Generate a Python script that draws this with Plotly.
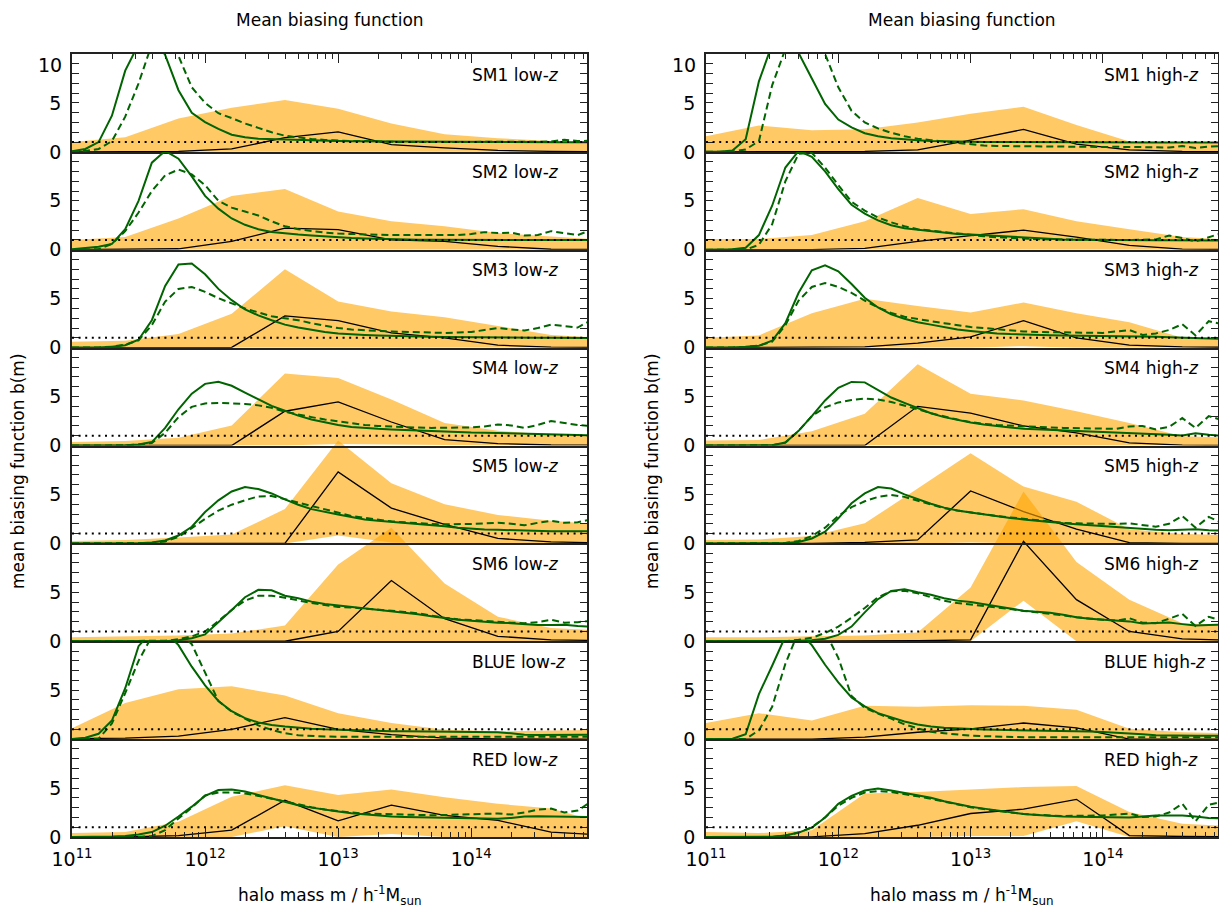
import plotly.graph_objects as go

# ---------------- data ----------------
LOGM_BIN = [11.0, 11.4, 11.8, 12.2, 12.6, 13.0, 13.4, 13.8, 14.2, 14.6, 15.0]
LOGM_FINE = [11.0, 11.1, 11.2, 11.3, 11.4, 11.5, 11.6, 11.7, 11.8, 11.9,
             12.0, 12.1, 12.2, 12.3, 12.4, 12.5, 12.6, 12.7, 12.8, 12.9,
             13.0, 13.1, 13.2, 13.3, 13.4, 13.5, 13.6, 13.7, 13.8, 13.9,
             14.0, 14.1, 14.2, 14.3, 14.4, 14.5, 14.6, 14.7, 14.8, 14.9]
X_TICKS = [1e11, 1e12, 1e13, 1e14]
X_TICKTEXT = ["10<sup>11</sup>", "10<sup>12</sup>", "10<sup>13</sup>", "10<sup>14</sup>"]
Y_TICKS = [0, 5]
Y_TICKTEXT = ["0", "5"]
Y_MINOR = [1, 2, 3, 4, 6, 7, 8, 9, 10]

# ---- low-z ----
SM1_LOW_UP = [1.0, 1.5, 3.4, 4.5, 5.3, 4.4, 2.9, 1.8, 1.4, 1.1, 1.0]
SM1_LOW_LO = [0, 0, 0, 0, 0, 0, 0, 0, 0, 0, 0]
SM1_LOW_MEAN = [0.0, 0.0, 0.05, 0.3, 1.45, 2.05, 0.75, 0.4, 0.15, 0.05, 0.02]
SM1_LOW_G = [0.05, 0.3, 1.0, 3.7, 8.3, 11.0, 12.0, 9.9, 6.3, 4.0,
             3.05, 2.35, 1.75, 1.5, 1.35, 1.3, 1.25, 1.2, 1.15, 1.12,
             1.1, 1.08, 1.07, 1.06, 1.05, 1.05, 1.04, 1.04, 1.03, 1.03,
             1.02, 1.02, 1.01, 1.0, 1.0, 1.0, 1.0, 0.99, 0.99, 0.98]
SM1_LOW_GD = [0.0, 0.1, 0.3, 1.1, 3.6, 7.0, 11.0, 12.5, 9.8, 6.6,
              5.0, 3.95, 3.45, 2.9, 2.45, 2.0, 1.65, 1.45, 1.32, 1.22,
              1.15, 1.1, 1.1, 1.05, 1.05, 1.0, 1.0, 1.0, 1.0, 1.0,
              1.0, 1.0, 1.0, 1.0, 1.0, 1.0, 1.05, 1.25, 1.1, 1.15]

SM2_LOW_UP = [1.0, 1.3, 3.2, 5.5, 6.2, 3.9, 2.9, 2.4, 1.7, 1.3, 1.0]
SM2_LOW_LO = [0, 0, 0, 0, 0, 0, 0, 0, 0, 0, 0]
SM2_LOW_MEAN = [0.0, 0.02, 0.1, 0.85, 2.2, 2.05, 1.0, 0.85, 0.35, 0.05, 0.02]
SM2_LOW_G = [0.05, 0.15, 0.3, 0.6, 2.1, 5.0, 8.9, 10.1, 9.3, 7.5,
             5.5, 4.2, 3.2, 2.55, 2.1, 1.82, 1.65, 1.55, 1.45, 1.35,
             1.3, 1.2, 1.15, 1.1, 1.05, 1.03, 1.02, 1.01, 1.0, 1.0,
             1.0, 1.0, 1.0, 1.0, 1.0, 1.0, 1.0, 1.0, 1.0, 1.0]
SM2_LOW_GD = [0.0, 0.0, 0.05, 0.6, 1.9, 3.8, 6.0, 7.6, 8.2, 7.7,
              6.6, 5.0, 4.3, 3.9, 3.5, 2.9, 2.4, 2.1, 1.9, 1.75,
              1.65, 1.6, 1.6, 1.55, 1.5, 1.5, 1.5, 1.45, 1.45, 1.5,
              1.6, 1.8, 1.7, 1.75, 1.45, 1.5, 1.9, 1.7, 1.5, 2.0]

SM3_LOW_UP = [0.6, 0.7, 1.4, 3.45, 8.0, 4.7, 3.7, 3.1, 2.2, 1.3, 1.0]
SM3_LOW_LO = [0, 0, 0, 0, 0, 0, 0, 0, 0, 0, 0]
SM3_LOW_MEAN = [0.0, 0.0, 0.0, 0.02, 3.25, 2.75, 1.5, 1.0, 0.25, 0.05, 0.02]
SM3_LOW_G = [0.0, 0.0, 0.02, 0.1, 0.25, 0.8, 2.8, 6.3, 8.5, 8.6,
             7.5, 6.0, 4.85, 3.9, 3.3, 2.8, 2.35, 2.05, 1.8, 1.6,
             1.45, 1.35, 1.3, 1.25, 1.2, 1.15, 1.12, 1.1, 1.08, 1.06,
             1.05, 1.05, 1.04, 1.03, 1.02, 1.01, 1.0, 1.0, 0.98, 0.97]
SM3_LOW_GD = [0.0, 0.0, 0.02, 0.1, 0.3, 0.75, 2.3, 4.7, 6.0, 6.2,
              5.7, 5.05, 4.5, 4.0, 3.6, 3.2, 3.0, 2.8, 2.5, 2.25,
              2.0, 1.85, 1.75, 1.7, 1.65, 1.6, 1.55, 1.5, 1.5, 1.55,
              1.6, 1.8, 2.0, 1.85, 1.75, 2.0, 2.35, 2.2, 2.05, 2.8]

SM4_LOW_UP = [0.35, 0.45, 0.8, 2.05, 7.35, 6.9, 4.7, 2.3, 1.5, 1.1, 1.0]
SM4_LOW_LO = [0, 0, 0, 0, 0, 0.15, 0.1, 0, 0, 0, 0]
SM4_LOW_MEAN = [0.0, 0.0, 0.0, 0.0, 3.5, 4.45, 2.4, 0.6, 0.2, 0.05, 0.02]
SM4_LOW_G = [0.0, 0.0, 0.0, 0.0, 0.02, 0.1, 0.35, 1.8, 3.7, 5.3,
             6.3, 6.5, 6.1, 5.4, 4.7, 4.05, 3.55, 3.05, 2.65, 2.35,
             2.1, 1.9, 1.78, 1.7, 1.63, 1.58, 1.5, 1.42, 1.38, 1.35,
             1.32, 1.3, 1.27, 1.24, 1.2, 1.16, 1.12, 1.1, 1.08, 1.05]
SM4_LOW_GD = [0.0, 0.0, 0.0, 0.0, 0.02, 0.1, 0.25, 1.3, 2.9, 3.95,
              4.3, 4.35, 4.3, 4.25, 4.1, 3.85, 3.45, 3.15, 2.9, 2.65,
              2.45, 2.25, 2.1, 2.0, 1.92, 1.88, 1.83, 1.8, 1.8, 1.8,
              1.85, 1.95, 2.15, 2.05, 1.8, 2.1, 2.5, 2.3, 2.1, 2.0]

SM5_LOW_UP = [0.25, 0.35, 0.6, 0.9, 3.5, 10.5, 6.15, 4.0, 2.9, 2.3, 1.9]
SM5_LOW_LO = [0, 0, 0, 0, 0, 0.8, 0.1, 0, 0, 0, 0]
SM5_LOW_MEAN = [0.0, 0.0, 0.0, 0.0, 0.0, 7.3, 3.6, 1.95, 0.5, 0.15, 0.05]
SM5_LOW_G = [0.0, 0.0, 0.0, 0.0, 0.0, 0.02, 0.08, 0.3, 0.8, 1.7,
             3.2, 4.4, 5.3, 5.75, 5.55, 5.1, 4.5, 3.95, 3.5, 3.2,
             2.95, 2.7, 2.45, 2.3, 2.2, 2.05, 1.95, 1.85, 1.75, 1.6,
             1.5, 1.42, 1.38, 1.33, 1.28, 1.25, 1.25, 1.25, 1.25, 1.25]
SM5_LOW_GD = [0.0, 0.0, 0.0, 0.0, 0.0, 0.0, 0.05, 0.2, 0.65, 1.55,
              2.5, 3.35, 3.95, 4.4, 4.8, 4.85, 4.5, 4.15, 3.8, 3.45,
              3.1, 2.8, 2.6, 2.4, 2.25, 2.15, 2.05, 1.98, 1.95, 1.95,
              1.98, 2.05, 2.1, 2.0, 1.85, 2.1, 2.3, 2.1, 2.15, 2.45]

SM6_LOW_UP = [0.4, 0.5, 0.6, 0.8, 1.6, 7.85, 11.6, 5.9, 2.5, 1.35, 1.1]
SM6_LOW_LO = [0, 0, 0, 0, 0, 0, 0, 0, 0, 0, 0]
SM6_LOW_MEAN = [0.0, 0.0, 0.0, 0.0, 0.0, 1.0, 6.2, 2.3, 0.5, 0.15, 0.05]
SM6_LOW_G = [0.0, 0.0, 0.0, 0.0, 0.0, 0.0, 0.0, 0.0, 0.1, 0.3,
             0.7, 1.9, 3.2, 4.5, 5.25, 5.2, 4.65, 4.4, 4.05, 3.8,
             3.65, 3.5, 3.35, 3.25, 3.1, 2.95, 2.75, 2.55, 2.35, 2.2,
             2.1, 1.98, 1.9, 1.85, 1.75, 1.65, 1.65, 1.68, 1.55, 1.5]
SM6_LOW_GD = [0.0, 0.0, 0.0, 0.0, 0.0, 0.0, 0.0, 0.05, 0.2, 0.5,
              1.0, 2.05, 3.2, 4.15, 4.65, 4.65, 4.45, 4.15, 3.9, 3.7,
              3.5, 3.45, 3.35, 3.25, 3.1, 3.0, 2.85, 2.6, 2.4, 2.25,
              2.15, 2.05, 1.95, 1.9, 1.85, 1.95, 2.2, 1.9, 1.95, 2.1]

BLUE_LOW_UP = [1.1, 3.7, 5.1, 5.4, 4.45, 2.65, 1.65, 0.95, 0.8, 0.9, 0.95]
BLUE_LOW_LO = [0, 0, 0, 0, 0, 0, 0, 0, 0, 0, 0]
BLUE_LOW_MEAN = [0.05, 0.1, 0.3, 1.0, 2.2, 1.0, 0.45, 0.1, 0.02, 0.0, 0.0]
BLUE_LOW_G = [0.02, 0.15, 0.55, 1.9, 5.2, 9.5, 11.0, 11.0, 9.6, 7.4,
              5.5, 3.9, 2.85, 2.15, 1.7, 1.45, 1.28, 1.15, 1.07, 1.0,
              0.95, 0.9, 0.85, 0.82, 0.8, 0.8, 0.78, 0.76, 0.75, 0.74,
              0.73, 0.72, 0.7, 0.6, 0.45, 0.42, 0.42, 0.43, 0.44, 0.45]
BLUE_LOW_GD = [0.0, 0.02, 0.05, 1.6, 4.7, 8.0, 10.5, 11.5, 11.0, 9.7,
               6.8, 3.9, 2.8, 2.1, 1.4, 0.95, 0.6, 0.4, 0.3, 0.27,
               0.25, 0.25, 0.24, 0.23, 0.22, 0.22, 0.22, 0.21, 0.2, 0.2,
               0.2, 0.2, 0.2, 0.2, 0.2, 0.2, 0.22, 0.23, 0.24, 0.25]

RED_LOW_UP = [0.4, 0.5, 1.55, 4.1, 5.3, 4.3, 4.85, 4.05, 3.4, 2.9, 1.4]
RED_LOW_LO = [0, 0, 0, 0, 1.1, 0, 0.3, 0, 0, 0, 0]
RED_LOW_MEAN = [0.0, 0.0, 0.15, 0.7, 3.75, 1.65, 3.25, 2.2, 1.7, 0.5, 0.2]
RED_LOW_G = [0.0, 0.0, 0.02, 0.05, 0.1, 0.25, 0.5, 1.15, 2.1, 3.1,
             4.2, 4.8, 4.85, 4.65, 4.3, 3.95, 3.6, 3.25, 3.0, 2.78,
             2.6, 2.42, 2.3, 2.18, 2.1, 2.05, 2.02, 2.0, 1.98, 1.95,
             1.92, 1.9, 1.87, 1.95, 2.1, 2.12, 2.12, 2.1, 2.08, 2.05]
RED_LOW_GD = [0.0, 0.0, 0.0, 0.0, 0.0, 0.0, 0.1, 0.7, 1.9, 3.0,
              4.25, 4.55, 4.55, 4.45, 4.2, 3.9, 3.6, 3.3, 3.05, 2.8,
              2.62, 2.5, 2.4, 2.35, 2.3, 2.28, 2.25, 2.22, 2.25, 2.28,
              2.32, 2.4, 2.4, 2.3, 2.5, 2.8, 2.9, 2.5, 2.7, 3.6]

# ---- high-z ----
SM1_HIGH_UP = [1.6, 2.7, 2.2, 2.3, 3.0, 3.9, 4.6, 2.75, 1.05, 1.05, 1.0]
SM1_HIGH_LO = [0, 0, 0, 0, 0, 0, 0, 0, 0, 0, 0]
SM1_HIGH_MEAN = [0.0, 0.0, 0.0, 0.05, 0.2, 1.2, 2.3, 0.8, 0.2, 0.05, 0.02]
SM1_HIGH_G = [0.0, 0.02, 0.15, 1.3, 7.2, 11.0, 12.0, 10.1, 7.5, 4.9,
              3.3, 2.5, 1.9, 1.6, 1.4, 1.28, 1.18, 1.12, 1.08, 1.05,
              1.03, 1.02, 1.02, 1.01, 1.01, 1.0, 1.0, 1.0, 1.0, 1.0,
              0.99, 0.99, 0.98, 0.98, 0.97, 0.97, 0.96, 0.96, 0.95, 0.95]
SM1_HIGH_GD = [0.0, 0.0, 0.02, 0.25, 1.1, 6.8, 10.5, 12.0, 12.0, 10.0,
               6.6, 4.2, 3.0, 2.4, 1.95, 1.6, 1.35, 1.2, 1.05, 0.95,
               0.8, 0.65, 0.6, 0.58, 0.55, 0.55, 0.55, 0.55, 0.5, 0.5,
               0.5, 0.52, 0.5, 0.45, 0.5, 0.45, 0.6, 0.4, 0.55, 0.6]

SM2_HIGH_UP = [1.1, 1.1, 1.5, 2.9, 5.3, 3.65, 4.15, 2.9, 2.1, 1.3, 1.0]
SM2_HIGH_LO = [0, 0, 0, 0, 0, 0, 0, 0, 0, 0, 0]
SM2_HIGH_MEAN = [0.0, 0.0, 0.02, 0.15, 0.85, 1.45, 2.0, 1.3, 0.45, 0.07, 0.02]
SM2_HIGH_G = [0.0, 0.0, 0.05, 0.2, 1.5, 4.5, 8.4, 10.1, 9.5, 8.0,
              6.2, 4.6, 3.7, 3.0, 2.5, 2.2, 2.05, 1.9, 1.75, 1.62,
              1.55, 1.47, 1.38, 1.3, 1.22, 1.15, 1.1, 1.05, 1.02, 1.0,
              1.0, 0.99, 0.98, 0.98, 0.97, 0.96, 0.96, 0.95, 0.95, 0.95]
SM2_HIGH_GD = [0.0, 0.0, 0.0, 0.02, 0.5, 2.6, 7.0, 9.8, 9.9, 8.4,
               6.6, 4.9, 4.0, 3.3, 2.8, 2.4, 2.1, 1.95, 1.78, 1.62,
               1.5, 1.38, 1.28, 1.2, 1.12, 1.08, 1.05, 1.03, 1.02, 1.0,
               1.0, 0.98, 1.0, 1.02, 1.05, 1.45, 1.2, 0.85, 1.3, 1.7]

SM3_HIGH_UP = [1.0, 1.25, 3.5, 5.0, 4.25, 3.6, 4.6, 3.5, 2.6, 1.0, 0.9]
SM3_HIGH_LO = [0, 0, 0, 0, 0, 0, 0.15, 0, 0, 0, 0]
SM3_HIGH_MEAN = [0.0, 0.0, 0.02, 0.07, 0.45, 1.1, 2.75, 1.0, 0.25, 0.07, 0.02]
SM3_HIGH_G = [0.0, 0.0, 0.02, 0.08, 0.2, 0.7, 2.5, 5.6, 7.9, 8.4,
              7.8, 6.5, 5.1, 4.1, 3.4, 2.95, 2.6, 2.35, 2.1, 1.85,
              1.7, 1.55, 1.45, 1.38, 1.32, 1.3, 1.27, 1.25, 1.23, 1.22,
              1.21, 1.2, 1.2, 1.15, 1.1, 1.05, 1.0, 0.98, 0.95, 0.9]
SM3_HIGH_GD = [0.0, 0.0, 0.02, 0.08, 0.2, 0.6, 2.3, 4.8, 6.2, 6.6,
               6.2, 5.6, 4.8, 4.1, 3.55, 3.15, 2.9, 2.7, 2.5, 2.3,
               2.1, 2.0, 1.88, 1.75, 1.65, 1.6, 1.57, 1.55, 1.52, 1.47,
               1.5, 1.65, 1.8, 1.3, 1.45, 1.8, 2.4, 1.25, 2.7, 2.4]

SM4_HIGH_UP = [0.5, 0.55, 1.45, 3.25, 8.3, 5.3, 4.6, 3.5, 2.3, 0.95, 0.8]
SM4_HIGH_LO = [0, 0, 0, 0, 0, 0, 0, 0, 0, 0, 0]
SM4_HIGH_MEAN = [0.0, 0.0, 0.0, 0.0, 4.0, 3.3, 2.0, 1.3, 0.27, 0.03, 0.0]
SM4_HIGH_G = [0.0, 0.0, 0.0, 0.0, 0.0, 0.02, 0.3, 1.5, 3.0, 4.6,
              5.9, 6.5, 6.45, 5.7, 4.9, 4.35, 3.8, 3.3, 2.9, 2.6,
              2.35, 2.15, 1.98, 1.85, 1.72, 1.65, 1.58, 1.52, 1.47, 1.42,
              1.38, 1.33, 1.3, 1.25, 1.2, 1.1, 1.02, 1.25, 1.1, 1.0]
SM4_HIGH_GD = [0.0, 0.0, 0.0, 0.0, 0.0, 0.02, 0.3, 1.5, 3.0, 3.9,
               4.4, 4.65, 4.8, 4.7, 4.45, 4.1, 3.7, 3.3, 2.95, 2.65,
               2.4, 2.2, 2.1, 2.02, 1.95, 1.9, 1.85, 1.8, 1.78, 1.75,
               1.72, 1.7, 1.95, 2.0, 1.65, 1.9, 2.8, 1.8, 3.0, 2.6]

SM5_HIGH_UP = [0.35, 0.4, 0.75, 2.05, 5.6, 9.2, 5.8, 4.25, 1.45, 0.95, 0.85]
SM5_HIGH_LO = [0, 0, 0, 0, 0, 0.1, 0, 0, 0, 0, 0]
SM5_HIGH_MEAN = [0.0, 0.0, 0.0, 0.1, 0.35, 5.35, 3.25, 1.45, 0.07, 0.0, 0.0]
SM5_HIGH_G = [0.0, 0.0, 0.0, 0.0, 0.0, 0.0, 0.03, 0.15, 0.5, 1.2,
              2.55, 4.1, 5.1, 5.75, 5.6, 5.0, 4.5, 4.05, 3.65, 3.35,
              3.15, 2.95, 2.78, 2.6, 2.45, 2.3, 2.15, 2.05, 1.95, 1.85,
              1.75, 1.65, 1.55, 1.45, 1.38, 1.35, 1.4, 1.45, 1.35, 1.3]
SM5_HIGH_GD = [0.0, 0.0, 0.0, 0.0, 0.0, 0.0, 0.05, 0.25, 0.75, 1.6,
               2.8, 3.7, 4.3, 4.75, 4.95, 4.75, 4.35, 3.95, 3.6, 3.35,
               3.15, 2.95, 2.8, 2.65, 2.5, 2.35, 2.2, 2.1, 2.05, 2.02,
               2.0, 1.98, 2.05, 1.9, 1.7, 2.0, 2.8, 1.6, 2.7, 2.1]

SM6_HIGH_UP = [0.4, 0.4, 0.5, 0.6, 0.9, 5.5, 15.3, 8.1, 4.25, 1.85, 1.6]
SM6_HIGH_LO = [0, 0, 0, 0, 0, 0, 4.15, 0, 0, 0, 0]
SM6_HIGH_MEAN = [0.0, 0.0, 0.0, 0.0, 0.05, 0.15, 10.2, 4.25, 1.0, 0.25, 0.1]
SM6_HIGH_G = [0.0, 0.0, 0.0, 0.0, 0.0, 0.0, 0.0, 0.05, 0.1, 0.25,
              0.65, 1.5, 2.95, 4.3, 5.15, 5.3, 5.0, 4.75, 4.4, 4.15,
              4.0, 3.8, 3.6, 3.35, 3.12, 3.0, 2.9, 2.7, 2.45, 2.3,
              2.2, 2.1, 2.03, 1.82, 1.85, 1.92, 1.75, 1.6, 1.65, 1.7]
SM6_HIGH_GD = [0.0, 0.0, 0.0, 0.0, 0.0, 0.0, 0.0, 0.15, 0.35, 0.85,
               1.5, 2.4, 3.4, 4.5, 5.1, 5.15, 4.9, 4.5, 4.15, 3.9,
               3.75, 3.6, 3.5, 3.3, 3.1, 2.95, 2.85, 2.65, 2.45, 2.3,
               2.2, 2.1, 2.35, 1.9, 1.85, 2.3, 2.8, 1.55, 2.5, 2.1]

BLUE_HIGH_UP = [1.65, 2.65, 1.9, 3.4, 3.3, 3.45, 3.4, 3.0, 1.05, 0.7, 0.6]
BLUE_HIGH_LO = [0, 0, 0, 0, 0, 0, 0, 0, 0, 0, 0]
BLUE_HIGH_MEAN = [0.0, 0.0, 0.0, 0.2, 0.7, 1.05, 1.65, 1.15, 0.0, 0.0, 0.0]
BLUE_HIGH_G = [0.0, 0.0, 0.05, 0.5, 4.6, 7.5, 10.5, 11.0, 9.6, 7.6,
               5.8, 4.25, 3.35, 2.65, 2.2, 1.8, 1.5, 1.28, 1.15, 1.07,
               1.02, 0.98, 0.95, 0.93, 0.9, 0.9, 0.88, 0.85, 0.82, 0.78,
               0.72, 0.66, 0.6, 0.5, 0.4, 0.36, 0.35, 0.35, 0.35, 0.35]
BLUE_HIGH_GD = [0.0, 0.0, 0.0, 0.02, 0.9, 3.3, 7.7, 11.0, 12.0, 11.0,
                8.3, 4.4, 3.2, 2.6, 2.1, 1.5, 1.1, 0.75, 0.6, 0.45,
                0.35, 0.3, 0.25, 0.22, 0.2, 0.2, 0.2, 0.2, 0.2, 0.2,
                0.2, 0.2, 0.2, 0.2, 0.2, 0.2, 0.2, 0.2, 0.2, 0.2]

RED_HIGH_UP = [0.5, 0.4, 0.7, 4.45, 4.6, 4.85, 5.1, 5.2, 2.55, 1.35, 1.1]
RED_HIGH_LO = [0, 0, 0, 0, 0, 0.1, 0.1, 1.6, 0, 0, 0]
RED_HIGH_MEAN = [0.0, 0.0, 0.02, 0.35, 1.2, 2.4, 2.85, 3.85, 0.15, 0.05, 0.02]
RED_HIGH_G = [0.0, 0.0, 0.0, 0.0, 0.0, 0.02, 0.15, 0.45, 0.95, 2.0,
              3.4, 4.2, 4.75, 4.95, 4.75, 4.5, 4.25, 4.0, 3.65, 3.35,
              3.1, 2.9, 2.72, 2.52, 2.35, 2.25, 2.15, 2.1, 2.07, 2.05,
              2.03, 2.0, 2.0, 2.1, 2.2, 2.2, 2.2, 2.1, 1.95, 1.9]
RED_HIGH_GD = [0.0, 0.0, 0.0, 0.0, 0.0, 0.0, 0.15, 0.45, 1.0, 2.0,
               3.2, 4.0, 4.55, 4.7, 4.6, 4.4, 4.15, 3.9, 3.6, 3.3,
               3.05, 2.85, 2.65, 2.5, 2.35, 2.25, 2.2, 2.15, 2.15, 2.15,
               2.2, 2.3, 2.4, 2.05, 2.1, 2.5, 3.4, 1.6, 3.3, 3.6]

LOW_PANELS = [
    ("SM1 low-<i>z</i>", SM1_LOW_UP, SM1_LOW_LO, SM1_LOW_MEAN, SM1_LOW_G, SM1_LOW_GD),
    ("SM2 low-<i>z</i>", SM2_LOW_UP, SM2_LOW_LO, SM2_LOW_MEAN, SM2_LOW_G, SM2_LOW_GD),
    ("SM3 low-<i>z</i>", SM3_LOW_UP, SM3_LOW_LO, SM3_LOW_MEAN, SM3_LOW_G, SM3_LOW_GD),
    ("SM4 low-<i>z</i>", SM4_LOW_UP, SM4_LOW_LO, SM4_LOW_MEAN, SM4_LOW_G, SM4_LOW_GD),
    ("SM5 low-<i>z</i>", SM5_LOW_UP, SM5_LOW_LO, SM5_LOW_MEAN, SM5_LOW_G, SM5_LOW_GD),
    ("SM6 low-<i>z</i>", SM6_LOW_UP, SM6_LOW_LO, SM6_LOW_MEAN, SM6_LOW_G, SM6_LOW_GD),
    ("BLUE low-<i>z</i>", BLUE_LOW_UP, BLUE_LOW_LO, BLUE_LOW_MEAN, BLUE_LOW_G, BLUE_LOW_GD),
    ("RED low-<i>z</i>", RED_LOW_UP, RED_LOW_LO, RED_LOW_MEAN, RED_LOW_G, RED_LOW_GD),
]
HIGH_PANELS = [
    ("SM1 high-<i>z</i>", SM1_HIGH_UP, SM1_HIGH_LO, SM1_HIGH_MEAN, SM1_HIGH_G, SM1_HIGH_GD),
    ("SM2 high-<i>z</i>", SM2_HIGH_UP, SM2_HIGH_LO, SM2_HIGH_MEAN, SM2_HIGH_G, SM2_HIGH_GD),
    ("SM3 high-<i>z</i>", SM3_HIGH_UP, SM3_HIGH_LO, SM3_HIGH_MEAN, SM3_HIGH_G, SM3_HIGH_GD),
    ("SM4 high-<i>z</i>", SM4_HIGH_UP, SM4_HIGH_LO, SM4_HIGH_MEAN, SM4_HIGH_G, SM4_HIGH_GD),
    ("SM5 high-<i>z</i>", SM5_HIGH_UP, SM5_HIGH_LO, SM5_HIGH_MEAN, SM5_HIGH_G, SM5_HIGH_GD),
    ("SM6 high-<i>z</i>", SM6_HIGH_UP, SM6_HIGH_LO, SM6_HIGH_MEAN, SM6_HIGH_G, SM6_HIGH_GD),
    ("BLUE high-<i>z</i>", BLUE_HIGH_UP, BLUE_HIGH_LO, BLUE_HIGH_MEAN, BLUE_HIGH_G, BLUE_HIGH_GD),
    ("RED high-<i>z</i>", RED_HIGH_UP, RED_HIGH_LO, RED_HIGH_MEAN, RED_HIGH_G, RED_HIGH_GD),
]
COLUMNS = [LOW_PANELS, HIGH_PANELS]

# ---------------- style / layout ----------------
W, H = 1219, 908
COL_PX = [(72.0, 587.0), (706.0, 1218.0)]
TOP_PX, BOT_PX = 54.0, 837.0
NROW = 8
RH = (BOT_PX - TOP_PX) / NROW
X_RANGE = [11.0, 14.87]
FONT = "DejaVu Sans"
TICK_SIZE = 19
TEXT_SIZE = 17
ORANGE = "rgba(255,165,0,0.6)"
GREEN = "#006400"
AXC = "#222222"

bins_m = [10 ** v for v in LOGM_BIN]
fine_m = [10 ** v for v in LOGM_FINE]
minor_vals = [m * 10 ** e for e in range(11, 15) for m in range(2, 10) if m * 10 ** e < 10 ** X_RANGE[1]]


def py(px):
    return 1 - px / H


def pxx(px):
    return px / W


def aid(n):
    return "" if n == 1 else str(n)


fig = go.Figure()
layout = {}
shapes = []
annotations = []

# ---- band + mean panels on tall axes (drawn first, not clipped at the panel top) ----
for c, panels in enumerate(COLUMNS):
    x0, x1 = COL_PX[c]
    for r, (label, up, lo, mean, g, gd) in enumerate(panels):
        n = c * NROW + r + 1
        xa, ya = "x" + aid(n), "y" + aid(n)
        bot = TOP_PX + (r + 1) * RH
        fig.add_trace(go.Scatter(x=bins_m, y=lo, xaxis=xa, yaxis=ya, mode="lines",
                                 line=dict(width=0), hoverinfo="skip", showlegend=False))
        fig.add_trace(go.Scatter(x=bins_m, y=up, xaxis=xa, yaxis=ya, mode="lines",
                                 line=dict(width=0), fill="tonexty", fillcolor=ORANGE,
                                 hoverinfo="skip", showlegend=False))
        fig.add_trace(go.Scatter(x=bins_m, y=mean, xaxis=xa, yaxis=ya, mode="lines",
                                 line=dict(color="black", width=1.3), showlegend=False))
        layout["xaxis" + aid(n)] = dict(type="log", range=X_RANGE, domain=[pxx(x0), pxx(x1)],
                                        anchor=ya, visible=False)
        layout["yaxis" + aid(n)] = dict(range=[0, 10 * (r + 1)], domain=[py(bot), py(TOP_PX)],
                                        anchor=xa, visible=False)

# ---- line panels (clipped to each panel) ----
for c, panels in enumerate(COLUMNS):
    x0, x1 = COL_PX[c]
    for r, (label, up, lo, mean, g, gd) in enumerate(panels):
        n = 2 * NROW + c * NROW + r + 1
        xa, ya = "x" + aid(n), "y" + aid(n)
        top = TOP_PX + r * RH
        bot = top + RH
        fig.add_trace(go.Scatter(x=fine_m, y=gd, xaxis=xa, yaxis=ya, mode="lines",
                                 line=dict(color=GREEN, width=2, dash="7px,4px"), showlegend=False))
        fig.add_trace(go.Scatter(x=fine_m, y=g, xaxis=xa, yaxis=ya, mode="lines",
                                 line=dict(color=GREEN, width=2), showlegend=False))
        xax = dict(type="log", range=X_RANGE, domain=[pxx(x0), pxx(x1)], anchor=ya,
                   showgrid=False, zeroline=False, showline=True, linecolor=AXC, linewidth=1.8,
                   automargin=False)
        if r == NROW - 1:
            xax.update(side="bottom", ticks="inside", ticklen=9, tickwidth=1.3, tickcolor=AXC,
                       tickmode="array", tickvals=X_TICKS, ticktext=X_TICKTEXT,
                       tickfont=dict(family=FONT, size=TICK_SIZE, color="black"), ticklabelstandoff=4,
                       minor=dict(ticks="inside", ticklen=5, tickwidth=1.1, tickcolor=AXC,
                                  tickvals=minor_vals, showgrid=False))
        elif r == 0:
            xax.update(side="top", ticks="inside", ticklen=9, tickwidth=1.3, tickcolor=AXC,
                       tickmode="array", tickvals=X_TICKS, showticklabels=False, mirror=True,
                       minor=dict(ticks="inside", ticklen=5, tickwidth=1.1, tickcolor=AXC,
                                  tickvals=minor_vals, showgrid=False))
        else:
            xax.update(ticks="", showticklabels=False)
        layout["xaxis" + aid(n)] = xax
        layout["yaxis" + aid(n)] = dict(
            range=[0, 10], domain=[py(bot), py(top)], anchor=xa, automargin=False,
            showgrid=False, zeroline=False, showline=True, linecolor=AXC, linewidth=1.8,
            mirror="ticks", ticks="inside", ticklen=7, tickwidth=1.2, tickcolor=AXC,
            tickmode="array", tickvals=Y_TICKS, ticktext=Y_TICKTEXT,
            minor=dict(ticks="inside", ticklen=7, tickwidth=1.2, tickcolor=AXC,
                       tickvals=Y_MINOR, showgrid=False),
            tickfont=dict(family=FONT, size=TICK_SIZE, color="black"), ticklabelstandoff=5)
        # reference level b = 1
        shapes.append(dict(type="line", xref=xa + " domain", x0=0, x1=1, yref=ya, y0=1, y1=1,
                           line=dict(color="black", width=2, dash="2px,4.6px"), layer="above"))
        annotations.append(dict(text=label, xref=xa + " domain", x=398 / 515, xanchor="left",
                                yref=ya + " domain", y=1 - 20.5 / RH, yanchor="middle",
                                showarrow=False, font=dict(family=FONT, size=TEXT_SIZE, color="black")))
        if r == 0:
            annotations.append(dict(text="10", xref="paper", x=pxx(x0 - 8), xanchor="right",
                                    yref=ya, y=10, yanchor="top", yshift=2, showarrow=False,
                                    font=dict(family=FONT, size=TICK_SIZE, color="black")))

    cx = pxx((x0 + x1) / 2)
    annotations.append(dict(text="Mean biasing function", xref="paper", x=cx, xanchor="center",
                            yref="paper", y=py(20), yanchor="middle", showarrow=False,
                            font=dict(family=FONT, size=TEXT_SIZE, color="black")))
    annotations.append(dict(text="halo mass m / h<sup>-1</sup>M<sub>sun</sub>", xref="paper", x=cx,
                            xanchor="center", yref="paper", y=py(895), yanchor="middle",
                            showarrow=False, font=dict(family=FONT, size=TEXT_SIZE, color="black")))
    annotations.append(dict(text="mean biasing function b(m)", xref="paper", x=pxx(x0 - 54),
                            xanchor="center", yref="paper", y=py(471), yanchor="middle",
                            textangle=-90, showarrow=False,
                            font=dict(family=FONT, size=TEXT_SIZE, color="black")))

layout.update(width=W, height=H, margin=dict(l=0, r=0, t=0, b=0, pad=0, autoexpand=False),
              autosize=False, paper_bgcolor="white", plot_bgcolor="rgba(0,0,0,0)",
              showlegend=False, font=dict(family=FONT, size=TEXT_SIZE, color="black"),
              shapes=shapes, annotations=annotations)
fig.update_layout(**layout)
fig.write_html("out.html")
